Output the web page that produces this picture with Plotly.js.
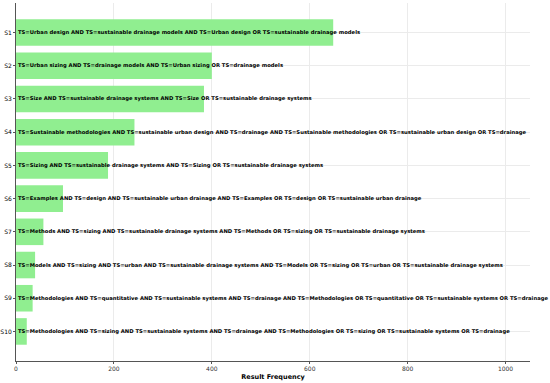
<!DOCTYPE html>
<html><head><meta charset="utf-8">
<script src="https://cdn.plot.ly/plotly-3.0.1.min.js"></script>
<style>html,body{margin:0;padding:0;background:#fff}#c{width:550px;height:383px}</style>
</head><body><div id="c"></div>
<script>
const categories = ["S1","S2","S3","S4","S5","S6","S7","S8","S9","S10"];
const values = [648, 400, 384, 242, 188, 96, 56, 39, 34, 22];
const queries = [
"TS=Urban design AND TS=sustainable drainage models AND TS=Urban design OR TS=sustainable drainage models",
"TS=Urban sizing AND TS=drainage models AND TS=Urban sizing OR TS=drainage models",
"TS=Size AND TS=sustainable drainage systems AND TS=Size OR TS=sustainable drainage systems",
"TS=Sustainable methodologies AND TS=sustainable urban design AND TS=drainage AND TS=Sustainable methodologies OR TS=sustainable urban design OR TS=drainage",
"TS=Sizing AND TS=sustainable drainage systems AND TS=Sizing OR TS=sustainable drainage systems",
"TS=Examples AND TS=design AND TS=sustainable urban drainage AND TS=Examples OR TS=design OR TS=sustainable urban drainage",
"TS=Methods AND TS=sizing AND TS=sustainable drainage systems AND TS=Methods OR TS=sizing OR TS=sustainable drainage systems",
"TS=Models AND TS=sizing AND TS=urban AND TS=sustainable drainage systems AND TS=Models OR TS=sizing OR TS=urban OR TS=sustainable drainage systems",
"TS=Methodologies AND TS=quantitative AND TS=sustainable systems AND TS=drainage AND TS=Methodologies OR TS=quantitative OR TS=sustainable systems OR TS=drainage",
"TS=Methodologies AND TS=sizing AND TS=sustainable systems AND TS=drainage AND TS=Methodologies OR TS=sizing OR TS=sustainable systems OR TS=drainage"
];
const xTicks = [0, 200, 400, 600, 800, 1000];
const xTitle = "Result Frequency";

const idx = categories.map((_, i) => i);
const trace = {
  type: 'bar', orientation: 'h', x: values, y: idx, width: 0.8,
  marker: {color: '#90EE90', line: {width: 0}}, hoverinfo: 'skip'
};
const annotations = queries.map((q, i) => ({
  x: 1, y: i, xref: 'x', yref: 'y', text: '<b>' + q + '</b>',
  showarrow: false, xanchor: 'left', yanchor: 'middle',
  font: {family: 'DejaVu Sans', size: 5.25, color: '#000'}
}));
const layout = {
  width: 550, height: 383,
  margin: {l: 16, r: 20, t: 3, b: 22},
  paper_bgcolor: '#fff', plot_bgcolor: '#fff',
  showlegend: false,
  font: {family: 'DejaVu Sans', color: '#000'},
  xaxis: {
    range: [0, 1050], tickvals: xTicks, ticktext: xTicks.map(String),
    showgrid: true, gridcolor: '#ebebeb', gridwidth: 1,
    zeroline: false, showline: true, linecolor: '#555', linewidth: 1,
    ticks: 'outside', ticklen: 2, tickcolor: '#555',
    tickfont: {size: 6, color: '#333'},
    title: {text: '<b>' + xTitle + '</b>', font: {size: 6.5, color: '#000'}, standoff: 3}
  },
  yaxis: {
    range: [9.89, -0.89], tickvals: idx, ticktext: categories,
    showgrid: true, gridcolor: '#ebebeb', gridwidth: 1,
    zeroline: false, showline: true, linecolor: '#555', linewidth: 1,
    ticks: 'outside', ticklen: 2, tickcolor: '#555',
    tickfont: {size: 6, color: '#000'}
  },
  annotations: annotations
};
Plotly.newPlot('c', [trace], layout, {displayModeBar: false, staticPlot: true});
</script></body></html>
